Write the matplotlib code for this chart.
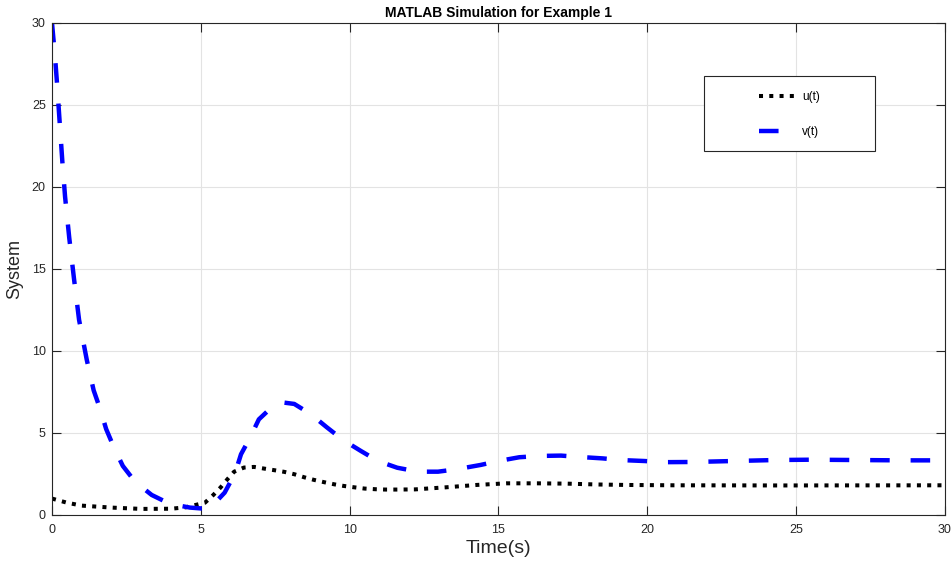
import numpy as np
import matplotlib
matplotlib.use('Agg')
from matplotlib import pyplot as plt
from matplotlib.patches import Rectangle

plt.rcParams['font.family'] = ['Liberation Sans', 'DejaVu Sans']

# values
t_u = [0, 0.5, 1, 2, 3, 4, 4.5, 5.14, 5.42, 5.67, 5.89, 6.12, 6.45, 6.79, 7.12, 7.47,
       7.8, 8.15, 8.47, 8.8, 9.14, 9.48, 9.8, 10.14, 10.5, 10.87, 11.2, 11.6, 12.2,
       13.26, 14.26, 15.27, 16.3, 17.3, 18.3, 19.3, 20.9, 24.5, 30]
u = [1.0, 0.75, 0.57, 0.45, 0.37, 0.38, 0.47, 0.75, 1.22, 1.69, 2.17, 2.64, 2.89, 2.93,
     2.83, 2.73, 2.63, 2.48, 2.3, 2.14, 2.0, 1.87, 1.77, 1.69, 1.61, 1.57, 1.55, 1.55,
     1.56, 1.69, 1.83, 1.93, 1.93, 1.91, 1.86, 1.83, 1.81, 1.80, 1.81]

t_v = [0, 0.05, 0.1, 0.17, 0.26, 0.35, 0.44, 0.58, 0.74, 0.91, 1.17, 1.4, 1.62, 1.82,
       2.09, 2.38, 2.79, 3.35, 3.97, 4.64, 5.0, 5.3, 5.8, 6.15, 6.35, 6.67, 6.95, 7.46,
       7.8, 8.14, 8.7, 9.23, 9.78, 10.38, 10.95, 11.6, 12.3, 12.97, 13.6, 14.4, 15.0,
       15.7, 16.4, 17.1, 17.7, 18.5, 19.1, 19.9, 20.6, 21.5, 22.9, 24.3, 25.5, 27, 28.5, 30]
v = [30, 29.0, 28.0, 26.3, 23.9, 21.5, 19.4, 16.9, 14.4, 11.9, 9.45, 7.6, 6.45, 5.24,
     4.08, 2.99, 2.03, 1.22, 0.67, 0.45, 0.4, 0.4, 1.36, 2.54, 3.7, 4.77, 5.83, 6.7,
     6.85, 6.77, 6.14, 5.35, 4.57, 3.9, 3.29, 2.88, 2.64, 2.64, 2.79, 3.05, 3.29, 3.52,
     3.6, 3.62, 3.54, 3.45, 3.35, 3.29, 3.22, 3.23, 3.29, 3.35, 3.37, 3.35, 3.33, 3.33]

xticks = [0, 5, 10, 15, 20, 25, 30]
yticks = [0, 5, 10, 15, 20, 25, 30]

fig = plt.figure(figsize=(9.52, 5.63), dpi=100)
ax = fig.add_axes([0.0546, 0.0853, 0.938, 0.874])

lu, = ax.plot(t_u, u, color='black', lw=2.9, label='u(t)')
lu.set_dashes((1, 1.55))
lv, = ax.plot(t_v, v, color='#0000ff', lw=3.2, label='v(t)')
lv.set_dashes((4.4, 4.7))

ax.set_xlim(0, 30)
ax.set_ylim(0, 30)
ax.set_xticks(xticks)
ax.set_yticks(yticks)
ax.grid(True, color='#e3e3e3', lw=0.8)
ax.set_axisbelow(True)
ax.tick_params(direction='in', length=6.5, width=0.8, top=True, right=True,
               labelsize=9, colors='#262626')
ax.tick_params(axis='x', pad=6.5)
ax.tick_params(axis='y', pad=4.5)
for s in ax.spines.values():
    s.set_color('#262626')
    s.set_linewidth(0.8)

ax.set_title('MATLAB Simulation for Example 1', fontsize=10, fontweight='bold', pad=4)
ax.set_xlabel('Time(s)', fontsize=14, color='#262626', labelpad=3)
ax.set_ylabel('System', fontsize=13, color='#262626', labelpad=6)

# legend box
box = Rectangle((0.730, 0.740), 0.1916, 0.152, transform=ax.transAxes,
                facecolor='white', edgecolor='#262626', lw=0.8, zorder=5)
ax.add_patch(box)
leg = ax.legend(loc='center', bbox_to_anchor=(0.826, 0.814), frameon=False,
                fontsize=8.5, handlelength=3.2, handletextpad=0.45, labelspacing=2.0)
leg.set_zorder(6)

fig.savefig('out.png', dpi=100)
